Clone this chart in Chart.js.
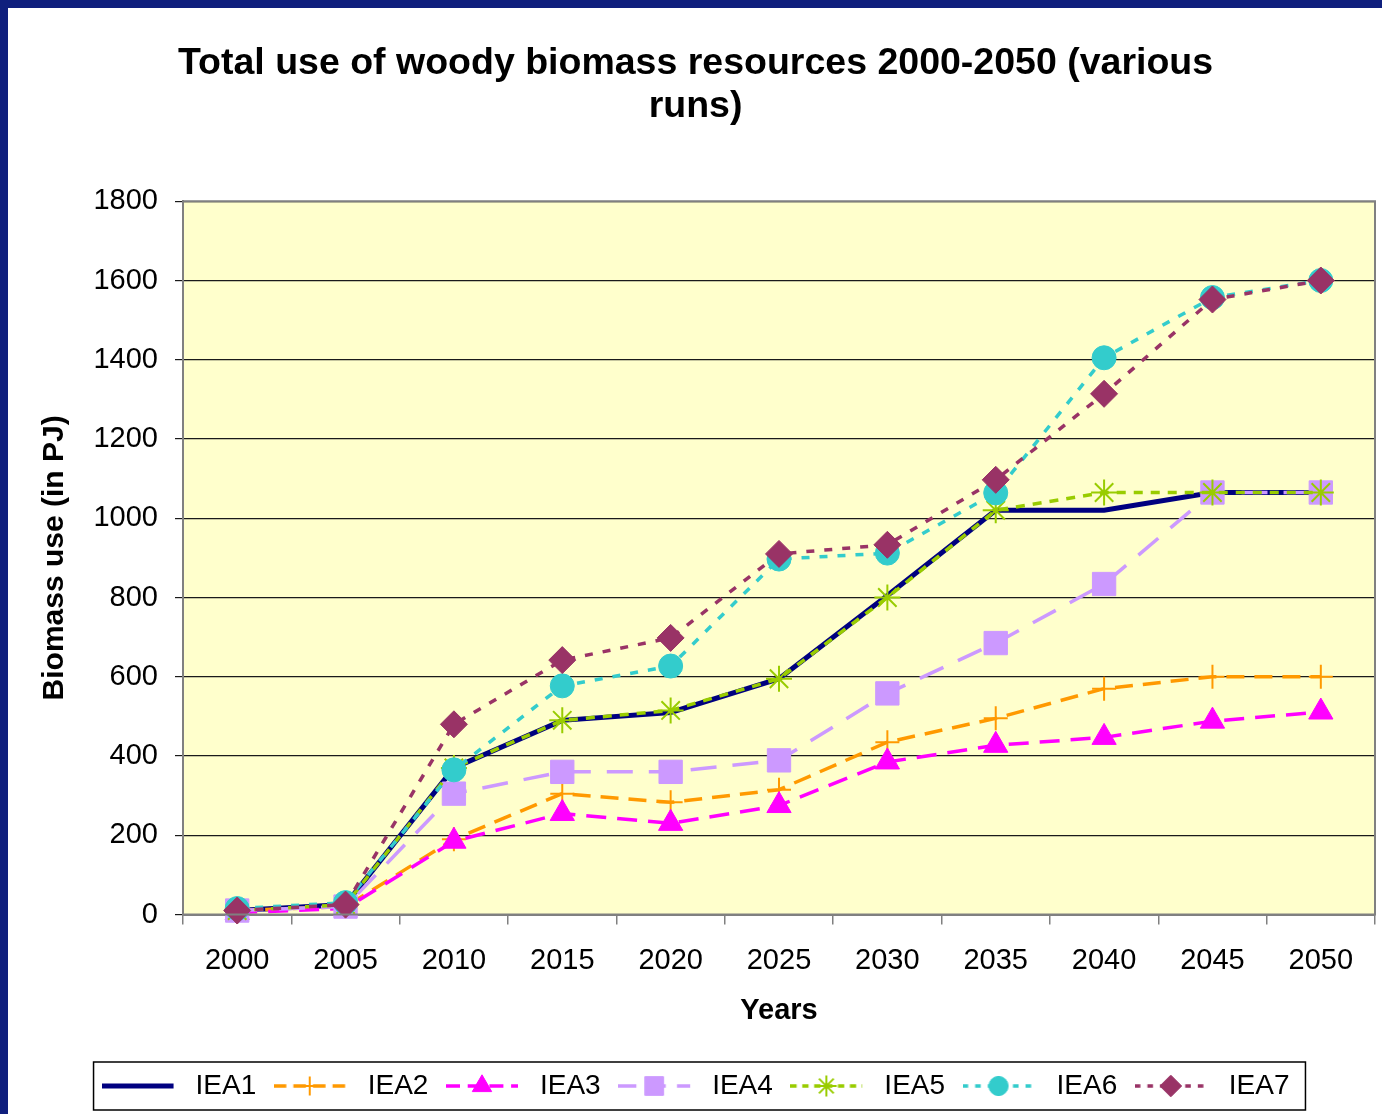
<!DOCTYPE html>
<html>
<head>
<meta charset="utf-8">
<script src="https://cdn.jsdelivr.net/npm/chart.js@4.4.1/dist/chart.umd.min.js"></script>
<style>
  html, body { margin: 0; padding: 0; width: 1382px; height: 1114px; overflow: hidden; background: #0f1f7d; }
  #wrap { position: absolute; left: 8px; top: 8px; width: 1374px; height: 1106px; background: #fff; }
</style>
</head>
<body>
<div id="wrap"><canvas id="chart" width="1374" height="1106"></canvas></div>
<script>
const years = ['2000', '2005', '2010', '2015', '2020', '2025', '2030', '2035', '2040', '2045', '2050'];
const yTicks = [0, 200, 400, 600, 800, 1000, 1200, 1400, 1600, 1800];

const iea1 = [10, 25, 370, 490, 510, 595, 805, 1020, 1020, 1065, 1065];
const iea2 = [10, 20, 190, 305, 283, 315, 435, 495, 570, 600, 600];
const iea3 = [5, 15, 185, 255, 230, 275, 385, 427, 447, 488, 511];
const iea4 = [10, 20, 305, 360, 360, 389, 558, 685, 834, 1065, 1065];
const iea5 = [10, 25, 370, 490, 515, 595, 800, 1020, 1065, 1065, 1065];
const iea6 = [15, 30, 365, 577, 627, 897, 912, 1064, 1405, 1557, 1600];
const iea7 = [10, 25, 480, 642, 698, 910, 933, 1097, 1314, 1552, 1600];

const font = '"Liberation Sans", Arial, sans-serif';

// one entry per run, line + marker look
function series(label, data, color, width, dash, style, radius, order) {
    const lineMarker = style === 'cross' || style === 'star';
    return {
        label, data, order,
        clip: false,
        borderColor: color,
        borderWidth: width,
        borderDash: dash,
        tension: 0,
        pointStyle: style || false,
        pointRadius: style ? radius : 0,
        pointHoverRadius: style ? radius : 0,
        pointBackgroundColor: color,
        pointBorderColor: color,
        pointBorderWidth: lineMarker ? 2 : 1
    };
}

const datasets = [
    series('IEA1', iea1, '#000080', 5, [], null, 0, 7),
    series('IEA2', iea2, '#ff9900', 3.5, [18, 10], 'cross', 12, 6),
    series('IEA3', iea3, '#ff00ff', 3.5, [20, 11], 'triangle', 14, 5),
    series('IEA4', iea4, '#cc99ff', 3.5, [26, 16], 'rect', 16.5, 4),
    series('IEA5', iea5, '#99cc00', 3.5, [9, 8], 'star', 13, 3),
    series('IEA6', iea6, '#33cccc', 3.5, [8, 10], 'circle', 12, 2),
    series('IEA7', iea7, '#993366', 3.5, [8, 10], 'rectRot', 13.5, 1)
];

// little line + marker sample for the legend
const SW = 80;
function swatch(ds) {
    const c = document.createElement('canvas');
    c.width = SW; c.height = 30;
    const ctx = c.getContext('2d');
    ctx.strokeStyle = ds.borderColor;
    ctx.lineWidth = ds.borderWidth;
    ctx.setLineDash(ds.borderDash.length ? ds.borderDash.map(v => v * 0.7) : []);
    ctx.beginPath();
    ctx.moveTo(0, 15);
    ctx.lineTo(72, 15);
    ctx.stroke();
    ctx.setLineDash([]);
    if (ds.pointStyle) {
        ctx.fillStyle = ds.pointBackgroundColor;
        ctx.strokeStyle = ds.pointBorderColor;
        ctx.lineWidth = ds.pointBorderWidth;
        Chart.helpers.drawPoint(ctx, {
            pointStyle: ds.pointStyle,
            radius: ds.pointRadius * 0.8,
            borderWidth: ds.pointBorderWidth,
            rotation: 0
        }, 36, 15);
    }
    return c;
}
const swatches = datasets.map(swatch);

const plotFrame = {
    id: 'plotFrame',
    beforeDraw(chart) {
        const {ctx, chartArea: a} = chart;
        ctx.save();
        ctx.fillStyle = '#ffffcc';
        ctx.fillRect(a.left, a.top, a.right - a.left, a.bottom - a.top);
        ctx.restore();
    },
    afterDraw(chart) {
        const {ctx, chartArea: a} = chart;
        ctx.save();
        ctx.strokeStyle = '#808080';
        ctx.lineWidth = 2;
        ctx.strokeRect(a.left, a.top, a.right - a.left, a.bottom - a.top);
        // legend frame
        const boxes = chart.legend.legendHitBoxes;
        if (boxes && boxes.length) {
            const l = Math.min(...boxes.map(b => b.left)) - 8;
            const r = Math.max(...boxes.map(b => b.left + b.width)) + 16;
            const t = boxes[0].top + boxes[0].height / 2 - 24;
            ctx.strokeStyle = '#000';
            ctx.lineWidth = 1.5;
            ctx.strokeRect(l, t, r - l, 48);
        }
        ctx.restore();
    }
};

new Chart(document.getElementById('chart'), {
    type: 'line',
    data: { labels: years, datasets },
    options: {
        responsive: false,
        animation: false,
        layout: { autoPadding: false, padding: { top: 10, left: 8, right: 7, bottom: 4 } },
        plugins: {
            title: {
                display: true,
                text: ['Total use of woody biomass resources 2000-2050 (various', 'runs)'],
                color: '#000',
                font: { family: font, size: 37.5, weight: 'bold', lineHeight: 1.15 },
                padding: { top: 24, bottom: 73 }
            },
            legend: {
                position: 'bottom',
                labels: {
                    usePointStyle: true,
                    pointStyleWidth: SW,
                    padding: 17.5,
                    color: '#000',
                    font: { family: font, size: 28 },
                    generateLabels: chart => chart.data.datasets.map((ds, i) => ({
                        text: ds.label,
                        pointStyle: swatches[i],
                        fillStyle: 'transparent',
                        strokeStyle: 'transparent',
                        lineWidth: 0,
                        fontColor: '#000',
                        hidden: false,
                        datasetIndex: i
                    }))
                }
            },
            tooltip: { enabled: false }
        },
        scales: {
            x: {
                offset: true,
                afterFit: s => { s.height = 140; s.paddingLeft = 0; s.paddingRight = 0; },
                grid: { offset: true, drawOnChartArea: false, drawTicks: true, tickLength: 10, color: '#808080', lineWidth: 1.5 },
                border: { color: '#808080', width: 2 },
                ticks: { color: '#000', padding: 19, font: { family: font, size: 29 }, maxRotation: 0 },
                title: {
                    display: true, text: 'Years', color: '#000',
                    font: { family: font, size: 29, weight: 'bold', lineHeight: 1.2 },
                    padding: { top: 0, bottom: 26 }
                }
            },
            y: {
                min: 0,
                max: 1800,
                afterFit: s => { s.width = 167; },
                afterBuildTicks: s => { s.ticks = yTicks.map(v => ({ value: v })); },
                grid: { color: '#1a1a1a', lineWidth: 1.2, tickLength: 8, drawTicks: true },
                border: { color: '#808080', width: 2 },
                ticks: { color: '#000', padding: 17, font: { family: font, size: 29 }, callback: v => String(v) },
                title: {
                    display: true, text: 'Biomass use (in PJ)', color: '#000',
                    font: { family: font, size: 30, weight: 'bold', lineHeight: 1.2 },
                    padding: { top: 21, bottom: 0 }
                }
            }
        }
    },
    plugins: [plotFrame]
});
</script>
</body>
</html>
